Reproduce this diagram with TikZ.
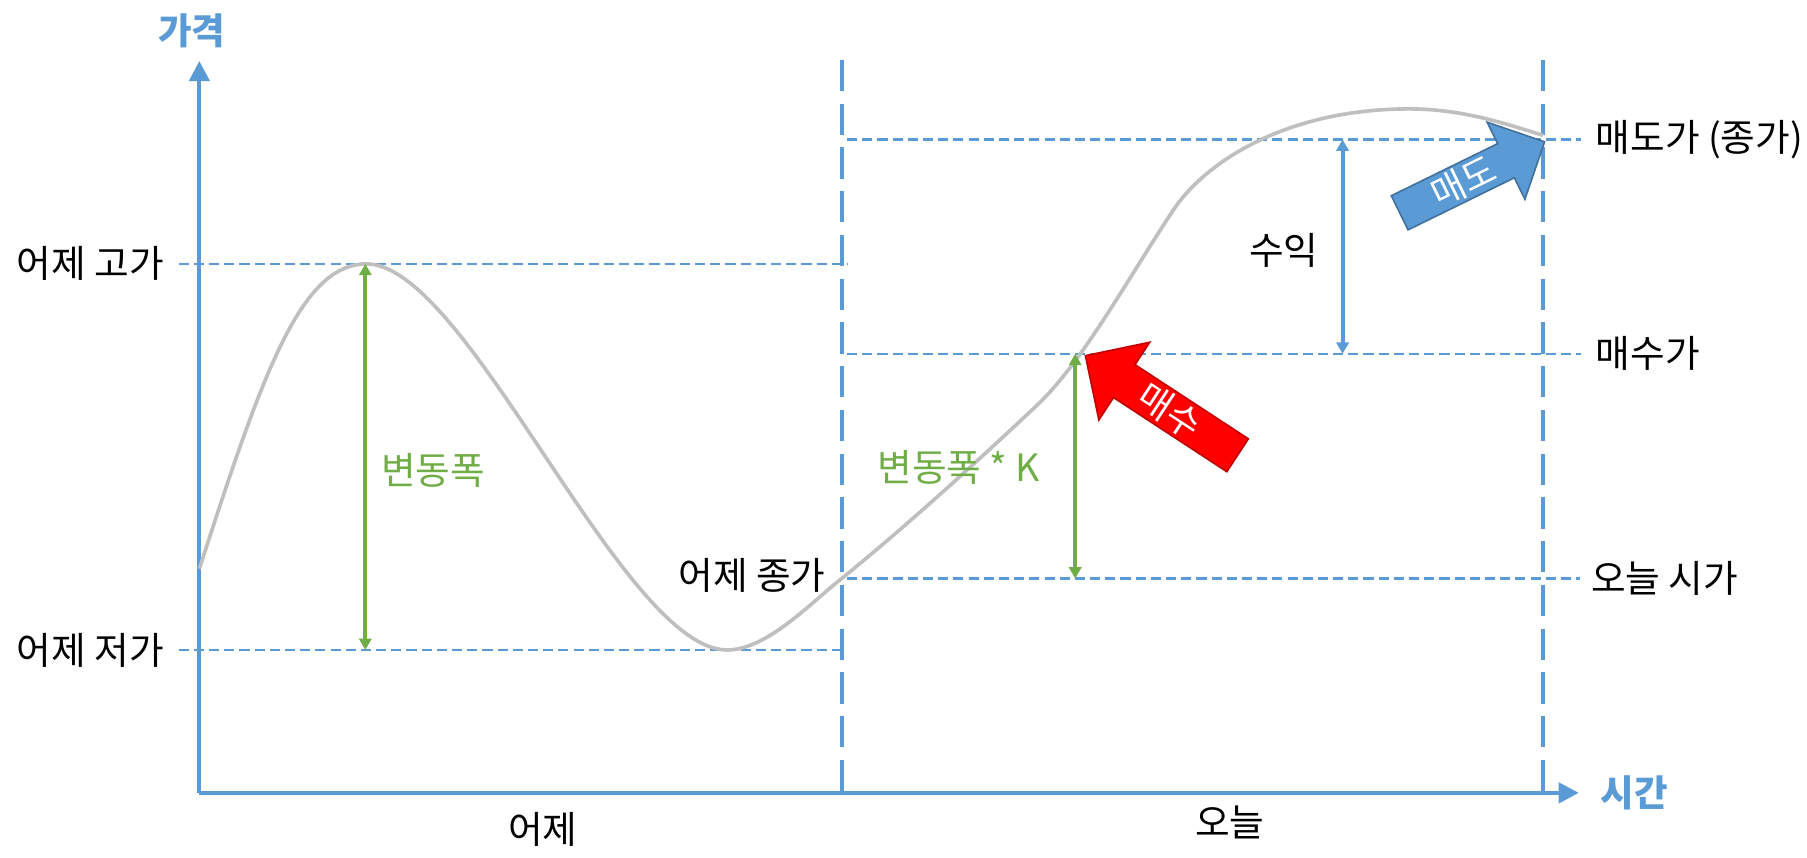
\documentclass[tikz,border=0pt]{standalone}
\usepackage{fontspec}
\setmainfont{Noto Sans CJK KR}
\usepackage{tikz}
\usetikzlibrary{arrows.meta,shapes.arrows}
\definecolor{axisblue}{HTML}{5B9BD5}
\definecolor{edgeblue}{HTML}{41719C}
\definecolor{rangegreen}{HTML}{70AD47}
\definecolor{pricegray}{HTML}{BFBFBF}
\definecolor{buyred}{HTML}{FF0000}
\definecolor{edgered}{HTML}{C00000}

\begin{document}
\begin{tikzpicture}[
	lbl/.style={inner sep=0pt, font=\fontsize{9.3pt}{11pt}\selectfont},
	axislbl/.style={inner sep=0pt, text=axisblue, font=\fontsize{9pt}{11pt}\selectfont\bfseries},
	axisline/.style={axisblue, line width=1pt, -{Triangle[length=5pt,width=5pt]}},
	dayline/.style={axisblue, line width=1pt, dash pattern=on 7.7pt off 3.1pt},
	guide/.style={axisblue, line width=0.55pt, dash pattern=on 2.5pt off 1.25pt},
	span/.style={line width=1pt, {Triangle[length=2.8pt,width=3pt]}-{Triangle[length=2.8pt,width=3pt]}},
	blockarrow/.style={single arrow, single arrow head indent=0pt, inner sep=0pt, text=white, font=\fontsize{9pt}{11pt}\selectfont, line width=0.4pt}]
				\useasboundingbox (0,0) rectangle (15.68,7.445);
				\coordinate (O) at (1.73,0.565);
				\coordinate (ytip) at (1.73,6.916);
				\coordinate (xtip) at (13.70,0.565);
				\coordinate (ytop) at (7.31,6.925);
				\coordinate (ybot) at (7.31,0.565);
				\coordinate (ttop) at (13.39,6.925);
				\coordinate (tbot) at (13.39,0.565);
				\draw[dayline] (ytop) -- (ybot);
				\draw[dayline] (ttop) -- (tbot);
				\draw[axisline] (O) -- (ytip);
				\draw[axisline] (O) -- (xtip);
				\node[axislbl] (price) at (1.665,7.18) {가격};
				\node[axislbl] (time) at (14.18,0.565) {시간};
				\coordinate (hiL) at (1.55,5.155);
				\coordinate (hiR) at (7.35,5.155);
				\coordinate (loL) at (1.55,1.805);
				\coordinate (loR) at (7.31,1.805);
				\coordinate (sellL) at (7.35,6.235);
				\coordinate (sellR) at (13.72,6.235);
				\coordinate (buyL) at (7.35,4.375);
				\coordinate (buyR) at (13.72,4.375);
				\coordinate (openL) at (7.35,2.425);
				\coordinate (openR) at (13.71,2.425);
				\draw[guide] (hiL) -- (hiR);
				\draw[guide] (loL) -- (loR);
				\draw[guide] (sellL) -- (sellR);
				\draw[guide] (buyL) -- (buyR);
				\draw[guide] (openL) -- (openR);
				\draw[pricegray, line width=0.9pt] (1.73,2.51) .. controls (2.28,4.21) and (2.61,5.155) .. (3.18,5.155)
					.. controls (4.06,5.155) and (5.40,1.805) .. (6.31,1.805)
					.. controls (6.66,1.805) and (7.05,2.23) .. (7.31,2.43)
					.. controls (7.90,2.91) and (8.50,3.46) .. (9.00,3.93)
					.. controls (9.40,4.31) and (9.80,5.05) .. (10.18,5.62)
					.. controls (10.45,6.03) and (11.15,6.50) .. (12.23,6.50)
					.. controls (12.70,6.50) and (13.10,6.36) .. (13.39,6.27);
				\coordinate (rangeTop) at (3.17,5.155);
				\coordinate (rangeBot) at (3.17,1.805);
				\coordinate (kTop) at (9.33,4.375);
				\coordinate (kBot) at (9.33,2.425);
				\coordinate (gainTop) at (11.65,6.235);
				\coordinate (gainBot) at (11.65,4.375);
				\draw[span, rangegreen] (rangeTop) -- (rangeBot);
				\draw[span, rangegreen] (kTop) -- (kBot);
				\draw[span, axisblue] (gainTop) -- (gainBot);
				\node[blockarrow, fill=buyred, draw=edgered, minimum height=1.578cm, minimum width=0.806cm, single arrow head extend=0.205cm, shape border rotate=180, rotate=-33.2] (buy) at (10.15,3.88) {매수};
				\node[blockarrow, fill=axisblue, draw=edgeblue, minimum height=1.40cm, minimum width=0.745cm, single arrow head extend=0.189cm, rotate=26.1] (sell) at (12.70,5.87) {매도};
				\node[lbl, anchor=east] (hiLbl) at (1.43,5.155) {어제 고가};
				\node[lbl, anchor=east] (loLbl) at (1.43,1.805) {어제 저가};
				\node[lbl, anchor=east] (closeLbl) at (7.17,2.455) {어제 종가};
				\node[lbl, anchor=west] (sellLbl) at (13.84,6.235) {매도가 (종가)};
				\node[lbl, anchor=west] (buyLbl) at (13.84,4.375) {매수가};
				\node[lbl, anchor=west] (openLbl) at (13.80,2.425) {오늘 시가};
				\node[lbl] (yday) at (4.71,0.245) {어제};
				\node[lbl] (today) at (10.67,0.305) {오늘};
				\node[lbl] (gain) at (11.14,5.275) {수익};
				\node[lbl, text=rangegreen] (range) at (3.76,3.365) {변동폭};
				\node[lbl, text=rangegreen] (rangeK) at (8.32,3.385) {변동폭 * K};
				\end{tikzpicture}
\end{document}
